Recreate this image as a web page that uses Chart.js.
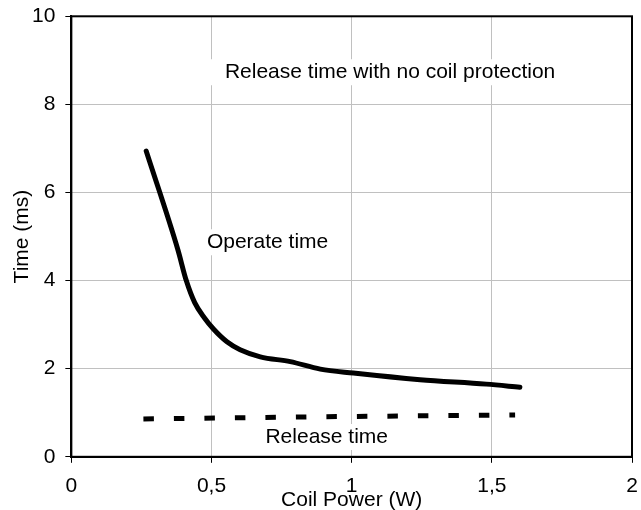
<!DOCTYPE html>
<html>
<head>
<meta charset="utf-8">
<script src="https://cdn.jsdelivr.net/npm/chart.js@4.4.1/dist/chart.umd.min.js"></script>
<style>
  html, body { margin: 0; padding: 0; background: #fff; }
  #wrap { width: 641px; height: 510px; }
</style>
</head>
<body>
<div id="wrap"><canvas id="lineChart" width="641" height="510"></canvas></div>
<script>
// operate time curve
var operateX = [0.267, 0.38, 0.41, 0.44, 0.475, 0.507, 0.555, 0.602, 0.674, 0.781, 0.888, 1.006, 1.244, 1.48, 1.60];
var operateY = [6.94, 4.70, 4.00, 3.50, 3.15, 2.90, 2.61, 2.43, 2.27, 2.16, 1.99, 1.90, 1.75, 1.65, 1.58];

// release time (dashed)
var releaseX = [0.257, 0.90, 1.583];
var releaseY = [0.86, 0.91, 0.95];

// text labels placed on the chart
var noteText = ['Release time with no coil protection', 'Operate time', 'Release time'];
var noteX = [1.137, 0.70, 0.911];
var noteY = [8.73, 4.87, 0.45];

var xTicks = [0, 0.5, 1, 1.5, 2];
var yTicks = [0, 2, 4, 6, 8, 10];
var xTitle = 'Coil Power (W)';
var yTitle = 'Time (ms)';

var FONT = 'Liberation Sans, Arial, sans-serif';

function toPoints(xs, ys) {
    var pts = [];
    for (var i = 0; i < xs.length; i++) {
        pts.push({x: xs[i], y: ys[i]});
    }
    return pts;
}

// white-backed text notes inside the plot
var notesPlugin = {
    id: 'notes',
    beforeDatasetsDraw: function(chart) {
        var ctx = chart.ctx;
        var xs = chart.scales.x, ys = chart.scales.y;
        ctx.save();
        ctx.font = '21px ' + FONT;
        ctx.textAlign = 'center';
        ctx.textBaseline = 'middle';
        for (var i = 0; i < noteText.length; i++) {
            var px = xs.getPixelForValue(noteX[i]);
            var py = ys.getPixelForValue(noteY[i]);
            var w = ctx.measureText(noteText[i]).width;
            ctx.fillStyle = '#fff';
            ctx.fillRect(px - w / 2 - 14, py - 13, w + 28, 26);
            ctx.fillStyle = '#000';
            ctx.fillText(noteText[i], px, py);
        }
        ctx.restore();
    }
};

// black frame around the plot area + axis titles
var framePlugin = {
    id: 'frame',
    afterDraw: function(chart) {
        var a = chart.chartArea, ctx = chart.ctx;
        ctx.save();
        ctx.strokeStyle = '#000';
        ctx.lineWidth = 2;
        ctx.strokeRect(a.left, a.top, a.right - a.left, a.bottom - a.top);

        ctx.fillStyle = '#000';
        ctx.font = '21px ' + FONT;
        ctx.textAlign = 'center';
        ctx.textBaseline = 'middle';
        ctx.fillText(xTitle, (a.left + a.right) / 2, 500);
        ctx.translate(22.5, (a.top + a.bottom) / 2);
        ctx.rotate(-Math.PI / 2);
        ctx.fillText(yTitle, 0, 0);
        ctx.restore();
    }
};

function createChart() {
    var ctx = document.getElementById('lineChart').getContext('2d');
    var chart = new Chart(ctx, {
        type: 'scatter',
        data: {
            datasets: [{
                label: 'Operate time',
                data: toPoints(operateX, operateY),
                showLine: true,
                borderColor: '#000',
                borderWidth: 5,
                borderCapStyle: 'round',
                cubicInterpolationMode: 'monotone',
                pointRadius: 0
            }, {
                label: 'Release time',
                data: toPoints(releaseX, releaseY),
                showLine: true,
                borderColor: '#000',
                borderWidth: 5,
                borderDash: [10.5, 20],
                borderCapStyle: 'butt',
                pointRadius: 0
            }]
        },
        options: {
            responsive: false,
            animation: false,
            layout: {padding: {left: 22, right: 9, top: 0, bottom: 1}},
            plugins: {
                legend: {display: false},
                tooltip: {enabled: false}
            },
            scales: {
                x: {
                    type: 'linear',
                    min: 0,
                    max: 2,
                    afterBuildTicks: function(axis) {
                        axis.ticks = xTicks.map(function(v) { return {value: v}; });
                    },
                    ticks: {
                        color: '#000',
                        font: {family: FONT, size: 21, lineHeight: 2.2},
                        padding: 0,
                        maxRotation: 0,
                        callback: function(v) { return String(v).replace('.', ','); }
                    },
                    grid: {color: '#c0c0c0', tickColor: '#000', tickLength: 6, lineWidth: 1},
                    border: {color: '#000', width: 2}
                },
                y: {
                    min: 0,
                    max: 10,
                    afterBuildTicks: function(axis) {
                        axis.ticks = yTicks.map(function(v) { return {value: v}; });
                    },
                    ticks: {
                        color: '#000',
                        font: {family: FONT, size: 21, lineHeight: 0.6},
                        padding: 10
                    },
                    grid: {color: '#c0c0c0', tickColor: '#000', tickLength: 6, lineWidth: 1},
                    border: {color: '#000', width: 2}
                }
            }
        },
        plugins: [notesPlugin, framePlugin]
    });
    return chart;
}

var chart = createChart();
</script>
</body>
</html>
